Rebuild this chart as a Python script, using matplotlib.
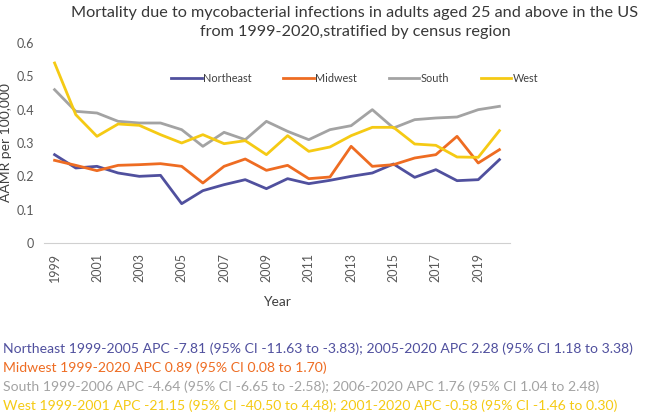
import matplotlib.pyplot as plt
import numpy as np

plt.rcParams['font.family'] = ['Lato', 'DejaVu Sans']

years = list(range(1999, 2021))
northeast = [0.265, 0.225, 0.230, 0.210, 0.200, 0.203, 0.118, 0.157, 0.175, 0.190, 0.163,
             0.193, 0.178, 0.188, 0.200, 0.210, 0.237, 0.197, 0.220, 0.187, 0.190, 0.250]
midwest = [0.248, 0.233, 0.217, 0.233, 0.235, 0.238, 0.230, 0.180, 0.230, 0.252, 0.218,
           0.233, 0.193, 0.198, 0.290, 0.230, 0.235, 0.255, 0.265, 0.320, 0.240, 0.280]
south = [0.460, 0.395, 0.390, 0.365, 0.360, 0.360, 0.340, 0.290, 0.332, 0.310, 0.365,
         0.335, 0.310, 0.340, 0.352, 0.400, 0.345, 0.370, 0.375, 0.378, 0.400, 0.410]
west = [0.540, 0.385, 0.320, 0.357, 0.353, 0.325, 0.300, 0.325, 0.298, 0.307, 0.265,
        0.322, 0.275, 0.288, 0.322, 0.347, 0.347, 0.297, 0.293, 0.258, 0.257, 0.337]

names = ['Northeast', 'Midwest', 'South', 'West']
colors = ['#50509e', '#ee6c22', '#a3a3a3', '#f5ca14']
notes = [
    'Northeast 1999-2005 APC -7.81 (95% CI -11.63 to -3.83); 2005-2020 APC 2.28 (95% CI 1.18 to 3.38)',
    'Midwest 1999-2020 APC 0.89 (95% CI 0.08 to 1.70)',
    'South 1999-2006 APC -4.64 (95% CI -6.65 to -2.58); 2006-2020 APC 1.76 (95% CI 1.04 to 2.48)',
    'West 1999-2001 APC -21.15 (95% CI -40.50 to 4.48); 2001-2020 APC -0.58 (95% CI -1.46 to 0.30)',
]

fig = plt.figure(figsize=(6.5, 4.13), dpi=100)
ax = fig.add_axes([44 / 650, 170 / 413, 466 / 650, 200 / 413])

x = np.arange(len(years))
for vals, name, c in zip([northeast, midwest, south, west], names, colors):
    ax.plot(x, vals, color=c, lw=2, label=name)

ax.set_xlim(-0.5, len(years) - 0.5)
ax.set_ylim(0, 0.6)
ax.set_yticks([0, 0.1, 0.2, 0.3, 0.4, 0.5, 0.6])
ax.set_yticklabels(['0', '0.1', '0.2', '0.3', '0.4', '0.5', '0.6'])
ax.set_xticks(x[::2])
ax.set_xticklabels([str(y) for y in years[::2]], rotation=90)
ax.tick_params(axis='both', length=0, labelsize=9, colors='#595959', pad=7)
for s in ['top', 'right', 'left']:
    ax.spines[s].set_visible(False)
ax.spines['bottom'].set_color('#d0d0d0')
ax.set_ylabel('AAMR per 100,000', fontsize=10, color='#404040', labelpad=3)
ax.set_xlabel('Year', fontsize=10, color='#404040', labelpad=10)

ax.legend(loc='center', bbox_to_anchor=(0.667, 0.825), ncol=4, frameon=False,
          fontsize=7.8, handlelength=2.8, handletextpad=0.15, columnspacing=2.9,
          labelcolor='#404040')

fig.text(0.546, 0.985, 'Mortality due to mycobacterial infections in adults aged 25 and above in the US\n'
         'from 1999-2020,stratified by census region', ha='center', va='top',
         fontsize=11.7, color='#383838', linespacing=1.45)

for i, (t, c) in enumerate(zip(notes, colors)):
    fig.text(0.005, (413 - 349 - 19 * i) / 413, t, color=c, fontsize=10.1, va='center')

fig.savefig('out.png', dpi=100)
